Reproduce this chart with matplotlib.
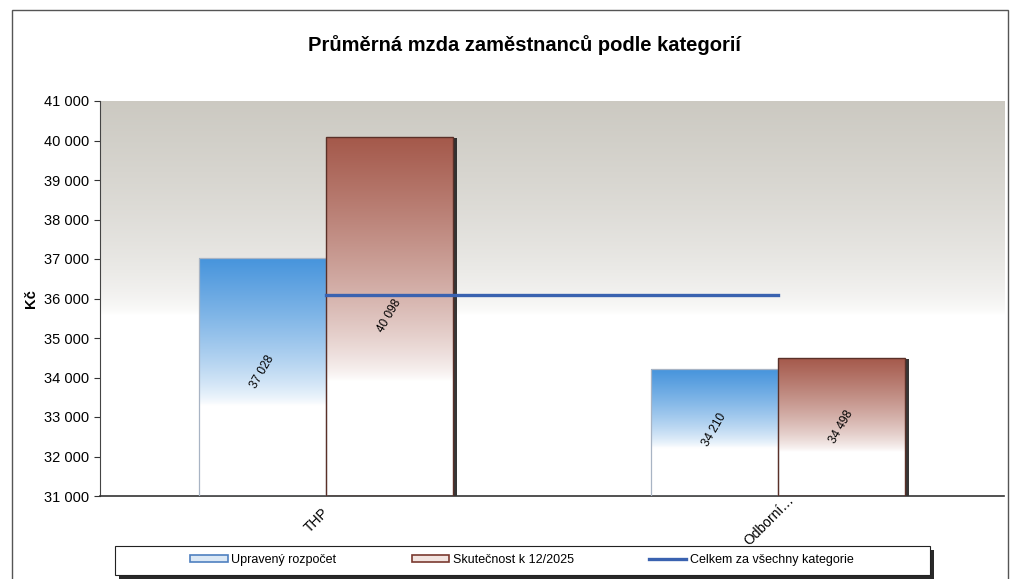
import numpy as np
import matplotlib
matplotlib.use('Agg')
import matplotlib.pyplot as plt
import matplotlib.patheffects as pe
import matplotlib.transforms as mtransforms
from matplotlib.patches import Patch, Rectangle
from matplotlib.lines import Line2D
from matplotlib.colors import to_rgb

plt.rcParams['font.family'] = ['Liberation Sans', 'DejaVu Sans']

categories = ['THP', 'Odborní…']
rozpocet = [37028, 34210]
skutecnost = [40098, 34498]
celkem = [36080, 36080]
labels_rozpocet = ['37 028', '34 210']
labels_skutecnost = ['40 098', '34 498']


def gradient_fill(ax, bar, color, frac):
    # barevny prechod nahore -> bila dole
    x0, y0 = bar.get_x(), bar.get_y()
    w, h = bar.get_width(), bar.get_height()
    t = np.linspace(0, 1, 300)[:, None]  # 0 = dole, 1 = nahore
    k = np.clip((t - (1 - frac)) / frac, 0, 1) ** 0.75
    c = np.array(to_rgb(color))
    img = (1 - k[..., None]) * np.ones(3) + k[..., None] * c
    img = np.repeat(img, 2, axis=1)
    im = ax.imshow(img, origin='lower', extent=[x0, x0 + w, y0, y0 + h],
                   aspect='auto', zorder=2.5, interpolation='bilinear')
    im.set_clip_path(bar)


fig = plt.figure(figsize=(10.18, 5.79), dpi=100)
ax = fig.add_axes([100 / 1018, 1 - 496 / 579, 904 / 1018, 395 / 579])

# pozadi - sedy prechod
t = np.linspace(0, 1, 300)[:, None]
k = np.clip((t - 0.46) / 0.54, 0, 1) ** 0.6
gray = np.array([0.80, 0.79, 0.76])
bg = (1 - k[..., None]) * np.ones(3) + k[..., None] * gray
bg = np.repeat(bg, 2, axis=1)
ax.imshow(bg, origin='lower', extent=[0, 1, 0, 1], transform=ax.transAxes,
          aspect='auto', zorder=0, interpolation='bilinear')

x = np.arange(len(categories))
w = 0.28
b1 = ax.bar(x - w / 2, np.array(rozpocet) - 31000, w, bottom=31000,
            facecolor='white', edgecolor='none', zorder=2)
b2 = ax.bar(x + w / 2, np.array(skutecnost) - 31000, w, bottom=31000,
            facecolor='white', edgecolor='none', zorder=2,
            path_effects=[pe.SimplePatchShadow(offset=(3, -1), shadow_rgbFace='#202020', alpha=0.9),
                          pe.Normal()])

for bar in b1:
    gradient_fill(ax, bar, '#4694dc', 0.62)
for bar in b2:
    gradient_fill(ax, bar, '#a4584a', 0.68)

# obrysy sloupcu
ax.bar(x - w / 2, np.array(rozpocet) - 31000, w, bottom=31000,
       fill=False, edgecolor='#a8b4c4', linewidth=0.9, zorder=3)
ax.bar(x + w / 2, np.array(skutecnost) - 31000, w, bottom=31000,
       fill=False, edgecolor='#5a3028', linewidth=1.0, zorder=3)

ax.plot(x, celkem, color='#3a62b0', linewidth=2.4, zorder=4)

for i in range(len(categories)):
    ax.text(x[i] - w / 2, 31000 + (rozpocet[i] - 31000) * 0.52, labels_rozpocet[i],
            rotation=60, ha='center', va='center', fontsize=8.5, zorder=5)
    ax.text(x[i] + w / 2, 31000 + (skutecnost[i] - 31000) * 0.5, labels_skutecnost[i],
            rotation=60, ha='center', va='center', fontsize=8.5, zorder=5)

ax.set_xlim(-0.5, 1.5)
ax.set_ylim(31000, 41000)
ax.set_yticks(np.arange(31000, 41001, 1000))
ax.set_yticklabels([f'{v // 1000} 000' for v in range(31000, 41001, 1000)], fontsize=10.5)
ax.set_xticks(x)
ax.set_xticklabels(categories, rotation=45, ha='center', va='center',
                   rotation_mode='anchor', fontsize=10)
ax.tick_params(axis='x', length=0, pad=0)
# popisky kategorii jako v Excelu - stred textu pod osou
off = mtransforms.ScaledTranslation(-9 / 100, -24 / 100, fig.dpi_scale_trans)
for lab in ax.get_xticklabels():
    lab.set_transform(lab.get_transform() + off)
ax.tick_params(axis='y', length=4, direction='out', color='#333333', pad=4)
for s in ['top', 'right']:
    ax.spines[s].set_visible(False)
ax.spines['left'].set_color('#444444')
ax.spines['bottom'].set_color('#333333')
ax.spines['bottom'].set_linewidth(1.2)
ax.set_ylabel('Kč', fontsize=10.5, fontweight='bold', labelpad=4)

fig.text(0.515, 1 - 45 / 579, 'Průměrná mzda zaměstnanců podle kategorií',
         ha='center', va='center', fontsize=14.5, fontweight='bold')

# legenda - ramecek zvlast, se stinem
box = Rectangle((115 / 1018, 1 - 575 / 579), 815 / 1018, 29 / 579,
                transform=fig.transFigure, facecolor='white', edgecolor='#222222',
                linewidth=0.8, zorder=-1,
                path_effects=[pe.SimplePatchShadow(offset=(3, -3), shadow_rgbFace='#111111', alpha=0.9),
                              pe.Normal()])
fig.add_artist(box)

handles = [Patch(facecolor='#dbe8f5', edgecolor='#4f80c0', linewidth=1.2),
           Patch(facecolor='#f2e4e0', edgecolor='#7a3a30', linewidth=1.2),
           Line2D([0], [0], color='#3a62b0', linewidth=2.4)]
leg = fig.legend(handles, ['Upravený rozpočet', 'Skutečnost k 12/2025', 'Celkem za všechny kategorie'],
                 ncol=3, loc='center', bbox_to_anchor=(522 / 1018, 1 - 560 / 579),
                 fontsize=9, frameon=False,
                 handlelength=3, handleheight=0.5, handletextpad=0.3,
                 columnspacing=6)

# ramecek grafu
fig.add_artist(Rectangle((12 / 1018, -0.02), 996 / 1018, 1 - 10 / 579 + 0.02,
                         transform=fig.transFigure, fill=False, edgecolor='#555555',
                         linewidth=1.0, zorder=-2))

fig.savefig('out.png', dpi=100)
